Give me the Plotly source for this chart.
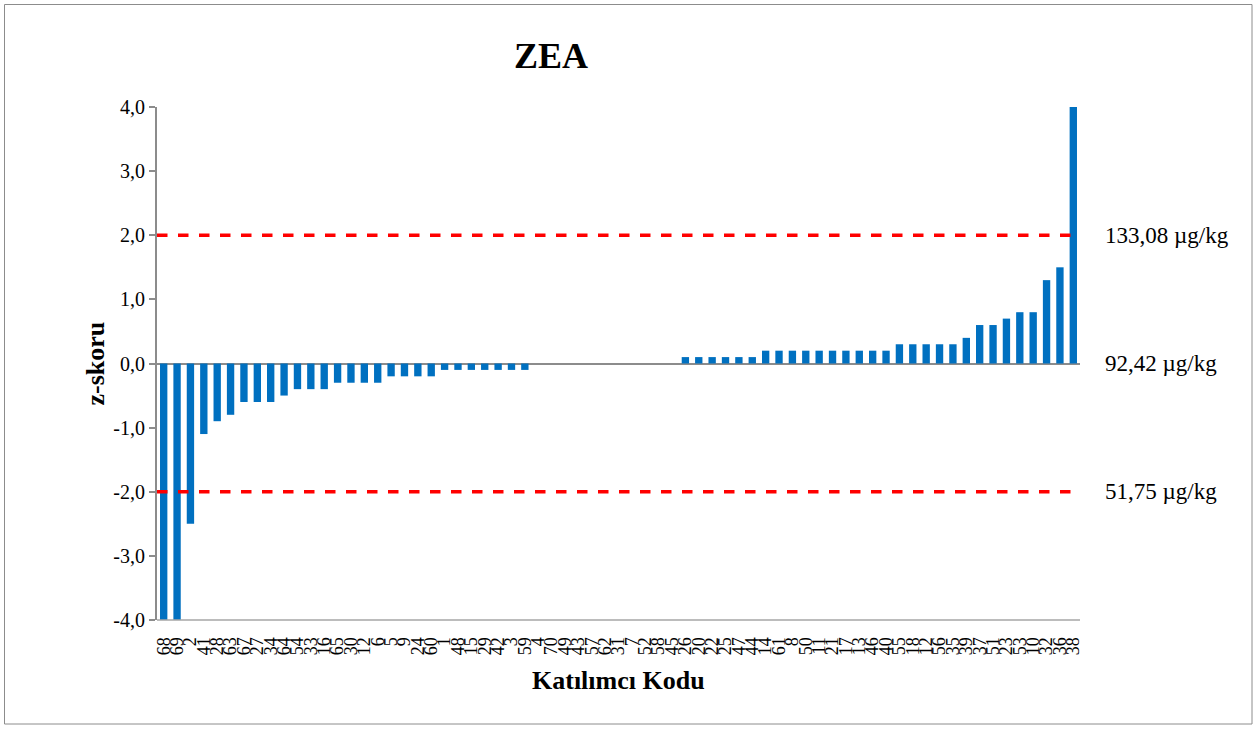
import plotly.graph_objects as go

participants = ["68", "69", "2", "41", "28", "63", "67", "27", "34", "64",
                "54", "33", "16", "65", "30", "12", "6", "5", "9", "24",
                "60", "1", "48", "15", "29", "42", "3", "59", "4", "70",
                "49", "43", "57", "62", "31", "7", "52", "58", "45", "26",
                "20", "22", "25", "47", "44", "14", "61", "8", "50", "11",
                "21", "17", "13", "46", "40", "55", "18", "12", "56", "35",
                "39", "37", "51", "23", "53", "10", "32", "36", "38"]
z_scores = [-4.0, -4.0, -2.5, -1.1, -0.9, -0.8, -0.6, -0.6, -0.6, -0.5,
            -0.4, -0.4, -0.4, -0.3, -0.3, -0.3, -0.3, -0.2, -0.2, -0.2,
            -0.2, -0.1, -0.1, -0.1, -0.1, -0.1, -0.1, -0.1, 0.0, 0.0,
            0.0, 0.0, 0.0, 0.0, 0.0, 0.0, 0.0, 0.0, 0.0, 0.1,
            0.1, 0.1, 0.1, 0.1, 0.1, 0.2, 0.2, 0.2, 0.2, 0.2,
            0.2, 0.2, 0.2, 0.2, 0.2, 0.3, 0.3, 0.3, 0.3, 0.3,
            0.4, 0.6, 0.6, 0.7, 0.8, 0.8, 1.3, 1.5, 4.0]
limit_values = [2.0, 0.0, -2.0]
limit_labels = ["133,08 µg/kg", "92,42 µg/kg", "51,75 µg/kg"]
dashed_limits = [2.0, -2.0]
y_ticks = [-4, -3, -2, -1, 0, 1, 2, 3, 4]
y_ticktext = [f"{v:.1f}".replace(".", ",") for v in y_ticks]

positions = list(range(len(z_scores)))
FONT = "Liberation Serif"

fig = go.Figure()
fig.add_trace(go.Bar(x=positions, y=z_scores, marker_color="#0070C0",
                     marker_line_width=0, width=0.55, showlegend=False))

for lv in dashed_limits:
    fig.add_trace(go.Scatter(x=[-0.5, len(z_scores) - 0.5], y=[lv, lv], mode="lines",
                             line=dict(color="#FF0000", width=3.5, dash="dash"),
                             showlegend=False, hoverinfo="skip"))

fig.update_layout(
    width=1257, height=729,
    margin=dict(l=157, r=177, t=107, b=109),
    paper_bgcolor="white", plot_bgcolor="white",
    font=dict(family=FONT, color="black"),
    title=dict(text="<b>ZEA</b>", x=551 / 1257, xanchor="center",
               y=1 - 55 / 729, yanchor="middle",
               font=dict(family=FONT, size=36, color="black")),
)
fig.update_xaxes(range=[-0.5, len(z_scores) - 0.5], tickmode="array",
                 tickvals=positions, ticktext=participants, tickangle=-90,
                 tickfont=dict(family=FONT, size=18, color="black"),
                 showline=False, showgrid=False, zeroline=False,
                 ticks="outside", ticklen=9, tickcolor="rgba(0,0,0,0)")
fig.update_yaxes(range=[-4, 4], tickmode="array", tickvals=y_ticks, ticktext=y_ticktext,
                 tickfont=dict(family=FONT, size=20, color="black"),
                 showline=True, linecolor="#8C8C8C", linewidth=2,
                 ticks="outside", ticklen=6, tickcolor="#8C8C8C", tickwidth=1.5,
                 showgrid=False, zeroline=True, zerolinecolor="#8C8C8C", zerolinewidth=2)

# bottom line of plot area
fig.add_shape(type="line", xref="paper", yref="paper", x0=0, x1=1, y0=0, y1=0,
              layer="above", line=dict(color="#A6A6A6", width=1.5))
# chart area border
fig.add_shape(type="rect", xref="paper", yref="paper",
              x0=(4.5 - 157) / 923, x1=(1252 - 157) / 923,
              y0=(620 - 724) / 513, y1=(620 - 4.5) / 513,
              line=dict(color="#8C8C8C", width=1))

for lv, lt in zip(limit_values, limit_labels):
    fig.add_annotation(x=(1103 - 157) / 923, xref="paper", y=lv, yref="y",
                       text=lt, showarrow=False, xanchor="left", yanchor="middle",
                       font=dict(family=FONT, size=23, color="black"))

fig.add_annotation(x=(95 - 157) / 923, xref="paper", y=0.5, yref="paper",
                   text="<b>z-skoru</b>", textangle=-90, showarrow=False,
                   xanchor="center", yanchor="middle",
                   font=dict(family=FONT, size=26, color="black"))
fig.add_annotation(x=0.5, xref="paper", y=(620 - 680) / 513, yref="paper",
                   text="<b>Katılımcı Kodu</b>", showarrow=False,
                   xanchor="center", yanchor="middle",
                   font=dict(family=FONT, size=26, color="black"))

fig.write_html("out.html", config={"displayModeBar": False},
               post_script="document.body.style.margin='0';document.body.style.padding='0';")
